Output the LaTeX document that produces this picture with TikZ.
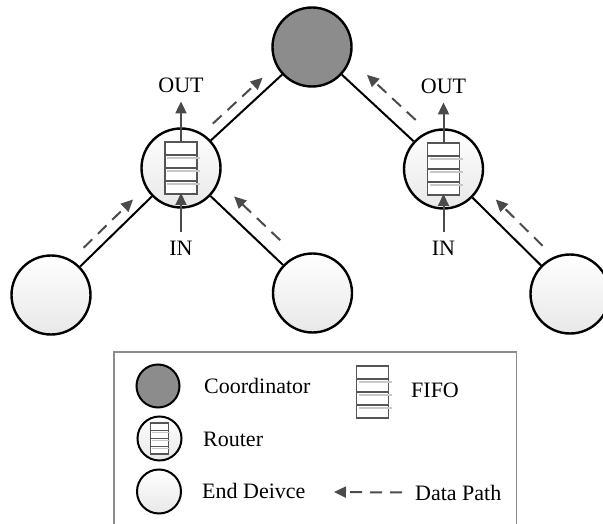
\documentclass[tikz,border=0pt]{standalone}
\usepackage{fontspec}
\setmainfont{Liberation Serif}
\usetikzlibrary{arrows.meta,calc}

\definecolor{coordgray}{RGB}{140,140,140}
\definecolor{pathgray}{RGB}{75,75,75}
\definecolor{fifoedge}{RGB}{85,85,85}
\definecolor{fifoshade}{RGB}{200,200,200}
\definecolor{framegray}{RGB}{140,140,140}

\begin{document}
\begin{tikzpicture}[x=1pt,y=-1pt,
  every node/.style={font=\fontsize{22}{26}\selectfont},
  devnode/.style={circle, draw=black, line width=2.4pt, minimum size=79pt,
    inner sep=0pt, top color=white, bottom color=black!9},
  coordnode/.style={circle, draw=black, line width=2.4pt, minimum size=79pt,
    inner sep=0pt, fill=coordgray},
  link/.style={line width=2pt, black},
  datapath/.style={line width=2pt, pathgray, dash pattern=on 12pt off 8pt,
    -{Triangle[length=12pt,width=11pt]}},
  ioarrow/.style={line width=2pt, pathgray, -{Triangle[length=12pt,width=11pt]}},
  lbl/.style={inner sep=0pt},
  fifo/.pic={
    \fill[white] (-16,-26) rectangle (16,26);
    \foreach \yy in {-13,0,13} \draw[fifoedge, line width=1.2pt] (-16,\yy) -- (16,\yy);
    \draw[fifoedge, line width=1.4pt] (-16,-26) rectangle (16,26);
    \foreach \yy in {-10,3,16} \draw[fifoshade, line width=1.2pt] (-14,\yy) -- (19,\yy);
  }
]
\clip (0,0) rectangle (603,524);

% network nodes
\node[coordnode] (co) at (312,47) {};
\node[devnode] (rL) at (181,168) {};
\node[devnode] (rR) at (443.5,169) {};
\node[devnode] (e1) at (51,295) {};
\node[devnode] (e2) at (312.5,293) {};
\node[devnode] (e3) at (570,294) {};

% links
\draw[link] (e1) -- (rL);
\draw[link] (e2) -- (rL);
\draw[link] (rL) -- (co);
\draw[link] (rR) -- (co);
\draw[link] (e3) -- (rR);

% FIFO queues inside the routers
\pic at (rL) {fifo};
\pic at (rR) {fifo};
\coordinate (rLtop) at ($(rL)+(0,-26)$);
\coordinate (rLbot) at ($(rL)+(0,25)$);
\coordinate (rRtop) at ($(rR)+(0,-26)$);
\coordinate (rRbot) at ($(rR)+(0,25)$);

% IN / OUT labels and arrows
\node[lbl, anchor=base] (outL) at (181,93) {OUT};
\node[lbl, anchor=base] (inL) at (181,255) {IN};
\node[lbl, anchor=base] (outR) at (443.5,94) {OUT};
\node[lbl, anchor=base] (inR) at (443.5,255) {IN};
\draw[ioarrow] (rLtop) -- ([yshift=-8pt]outL.south);
\draw[ioarrow] ([yshift=8pt]inL.north) -- (rLbot);
\draw[ioarrow] (rRtop) -- ([yshift=-8pt]outR.south);
\draw[ioarrow] ([yshift=8pt]inR.north) -- (rRbot);

% data paths
\draw[datapath] ($(e1)!0.31!(rL)!11pt!90:(rL)$) -- ($(e1)!0.69!(rL)!11pt!90:(rL)$);
\draw[datapath] ($(rL)!0.30!(co)!11pt!90:(co)$) -- ($(rL)!0.68!(co)!11pt!90:(co)$);
\draw[datapath] ($(e2)!0.33!(rL)!16pt!-90:(rL)$) -- ($(e2)!0.68!(rL)!16pt!-90:(rL)$);
\draw[datapath] ($(rR)!0.30!(co)!17pt!-90:(co)$) -- ($(rR)!0.67!(co)!17pt!-90:(co)$);
\draw[datapath] ($(e3)!0.30!(rR)!15pt!-90:(rR)$) -- ($(e3)!0.67!(rR)!15pt!-90:(rR)$);

% legend
\draw[framegray, line width=1.6pt] (114,352) rectangle (516.5,540);
\node[coordnode, minimum size=43pt, line width=2pt] (lgC) at (158,386) {};
\node[devnode, minimum size=44pt, line width=2pt] (lgR) at (159.5,438.5) {};
\pic[xscale=0.55, yscale=0.6] at (lgR) {fifo};
\node[devnode, minimum size=44pt, line width=2pt] (lgE) at (159,491.5) {};
\pic at (372.5,392) {fifo};
\node[lbl, anchor=base west] (tC) at (204,393) {Coordinator};
\node[lbl, anchor=base west] (tR) at (203,446) {Router};
\node[lbl, anchor=base west] (tE) at (202,498) {End Deivce};
\node[lbl, anchor=base west] (tF) at (411,397) {FIFO};
\node[lbl, anchor=base west] (tD) at (415,500) {Data Path};
\coordinate (dpEnd) at (334,492);
\draw[datapath] ($(tD.west)+(-13,0)$) -- (dpEnd);
\end{tikzpicture}
\end{document}
